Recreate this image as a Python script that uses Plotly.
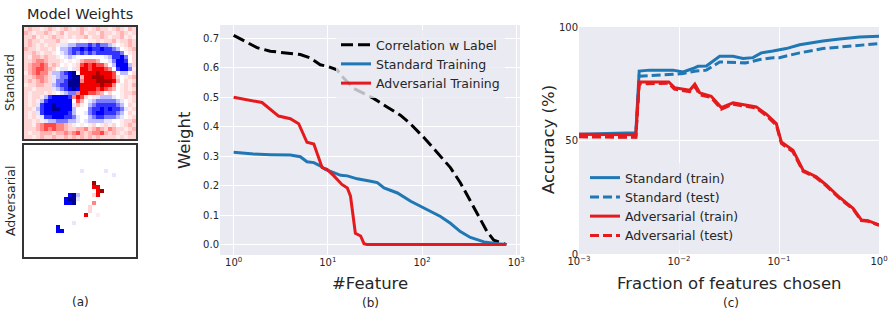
import plotly.graph_objects as go

W, H = 889, 312

# ---------------- Panel (a): model weights (28x28), char-coded levels ----------------
level_values = {'.': 0.0, '1': 0.04, '2': 0.08, '3': 0.15, '4': 0.24, '5': 0.36,
                'R': 0.55, 'M': 0.85, '-': -0.05, '~': -0.13, 'c': -0.26,
                'b': -0.4, 'B': -0.52, 'N': -0.8}

standard_rows = [
    "2322123" "2123212" "3212322" "1232132",
    "3212232" "1231222" "3122132" "2123212",
    "2231212" "3221212" "2312232" "1223121",
    "2322122" "2311..1" "..11212" "2312232",
    "2321212" "21--~~c" "ccbcbcc" "~-.1232",
    "3221221" "2.~~cbb" "BbBbbBb" "bc~.123",
    "2232122" "1.-~cbc" "bcbcbbb" "bbbc.12",
    "2133232" "21.-~-." "......-" "~bbBc.2",
    "2234432" "221.1.1" "34443.." "-cBBb.2",
    "2344542" "32.1.12" "5R5R553" ".~BBB~2",
    "2345543" "2.--.-2" "RR5RRR5" "4.bBBc1",
    "1345442" "~~cbBN." "RRRRMRR" "R5.~~.2",
    "2234432" "-~ccBNN" "3RRMMMR" "R52.123",
    "2323432" "-ccbNNN" "4RRRMMM" "MR3.212",
    "1223322" "~cbbNNN" "RRRRRMR" "R4.1213",
    "2212222" "-~cbBNB" "RRRR5R5" "43.1212",
    "2122212" "1.-~cc4" "RR5543." "2..1223",
    "21221~b" "BBBBb4R" "52.1-~~" "~-.1212",
    "2121~bB" "BBBBB.5" "3.-~ccc" "cc~-.12",
    "212-bBB" "NBBBB-3" "1.~cbbb" "bbc~.21",
    "221~bBB" "NNBBB~." "..cbbBb" "Bbbc-12",
    "212-bBB" "BBBBb~." ".-cbBBb" "bbc~.21",
    "2121-bb" "BBBbbc-" "..~cbbc" "cc~-.12",
    "22121-~" "~ccc~~-" ".-~~~~-" "-..1223",
    "2213455" "544321." "1.12.12" "12.1232",
    "2223454" "5443223" "3423432" "4322123",
    "2122333" "2334345" "3234453" "2321232",
    "2212322" "3223232" "3232322" "2212122",
]

adversarial_rows = ["." * 28 for _ in range(28)]
adversarial_marks = [  # (row, col, level)
    (9, 17, 'M'), (10, 17, 'R'), (10, 18, 'R'), (11, 18, 'R'), (11, 19, 'M'),
    (12, 17, '2'), (12, 18, 'R'), (14, 17, '4'), (15, 16, '2'), (16, 16, '2'),
    (17, 15, 'R'),
    (12, 11, 'B'), (12, 12, 'N'), (12, 13, '~'), (13, 10, 'B'), (13, 11, 'N'),
    (13, 12, 'N'), (13, 13, '-'), (14, 10, 'B'), (14, 11, 'B'), (14, 12, 'N'),
    (20, 8, 'B'), (21, 8, 'B'), (21, 9, 'B'),
    (6, 14, '-'), (6, 20, '-'), (7, 22, '-'), (17, 18, '1'), (19, 12, '-'),
]
adv_grid = [list(r) for r in adversarial_rows]
for r, c, ch in adversarial_marks:
    adv_grid[r][c] = ch

z_standard = [[level_values[ch] for ch in row] for row in standard_rows]
z_adversarial = [[level_values[ch] for ch in row] for row in adv_grid]

seismic = [[0.0, 'rgb(0,0,77)'], [0.25, 'rgb(0,0,255)'], [0.5, 'rgb(255,255,255)'],
           [0.75, 'rgb(255,0,0)'], [1.0, 'rgb(128,0,0)']]

# ---------------- Panel (b): weights vs #feature ----------------
corr_feat = [1, 1.77, 2.45, 3.4, 5.1, 6.5, 8.3, 9.8, 12.5, 14.7, 18.8, 24, 30.6, 42.5,
             58.9, 75, 104, 144, 200, 255, 326, 416, 490, 577, 784]
corr_val = [0.71, 0.668, 0.656, 0.65, 0.645, 0.633, 0.61, 0.605, 0.593, 0.565, 0.53,
            0.513, 0.496, 0.467, 0.439, 0.41, 0.364, 0.313, 0.261, 0.21, 0.147, 0.084,
            0.044, 0.015, 0.0]

std_feat = [1, 1.63, 2.45, 4.0, 5.1, 6.0, 7.1, 8.3, 9.4, 11.6, 13.7, 16.1, 20.5, 28.5,
            33.5, 39.5, 54.8, 75.8, 105, 134, 157, 200, 255, 326, 455, 635, 784]
std_val = [0.313, 0.307, 0.305, 0.304, 0.298, 0.281, 0.278, 0.267, 0.255, 0.244, 0.235,
           0.233, 0.223, 0.215, 0.21, 0.192, 0.175, 0.147, 0.124, 0.104, 0.095, 0.072,
           0.044, 0.024, 0.009, 0.003, 0.0]

adv_feat = [1, 2.0, 3.0, 4.0, 4.9, 6.0, 7.1, 8.7, 9.8, 11.6, 14.1, 16.1, 17.4, 19.6,
            22.3, 24.2, 26, 100, 784]
adv_val = [0.4995, 0.482, 0.436, 0.427, 0.41, 0.347, 0.341, 0.261, 0.255, 0.233, 0.204,
           0.192, 0.164, 0.038, 0.029, 0.003, 0.0, 0.0, 0.0]

# ---------------- Panel (c): accuracy vs fraction of features ----------------
st_frac = [0.001, 0.0019, 0.0035, 0.0037, 0.0040, 0.0051, 0.0087, 0.011, 0.0138, 0.0155,
           0.0188, 0.0255, 0.0347, 0.0437, 0.055, 0.0665, 0.087, 0.118, 0.161, 0.203,
           0.275, 0.405, 0.641, 1.0]
st_acc = [52.8, 53.1, 53.4, 53.4, 80.6, 81, 81, 80.2, 81.7, 82.7, 82.8, 87.1, 87.1, 86.1,
          86.5, 88.6, 89.4, 90.5, 92.2, 93, 93.8, 94.7, 95.6, 95.9]

ste_frac = [0.001, 0.0035, 0.0037, 0.0040, 0.0087, 0.011, 0.0148, 0.0188, 0.0255, 0.0465,
            0.063, 0.087, 0.101, 0.161, 0.275, 0.59, 1.0]
ste_acc = [51.9, 51.6, 51.6, 78.3, 79.2, 79.5, 80.6, 81, 84.6, 84.2, 85.6, 86.5, 86.5,
           88.6, 90.5, 91.9, 92.7]

adv_frac = [0.001, 0.0035, 0.0037, 0.0040, 0.0063, 0.0079, 0.0090, 0.0128, 0.0144, 0.0161,
            0.021, 0.0265, 0.0347, 0.0454, 0.0593, 0.0747, 0.094, 0.1055, 0.138, 0.174,
            0.236, 0.297, 0.404, 0.55, 0.666, 0.776, 1.0]
advtr_acc = [52.8, 52.5, 52.5, 75.8, 75.8, 75.8, 73.3, 72.1, 74.8, 71, 69.5, 64.5, 66.6,
             65.8, 64.8, 61.6, 57.5, 49.4, 45.7, 36.9, 34, 30.4, 24.9, 20.1, 15, 14.7, 12.8]
advte_acc = [51.6, 51.4, 51.4, 75.0, 75.1, 75.2, 72.6, 71.5, 73.9, 70.2, 68.9, 63.8, 66.0,
             65.1, 64.3, 61.0, 56.8, 48.7, 45.0, 36.4, 33.6, 30.0, 24.5, 19.8, 14.7, 14.4, 12.6]

BLUE = '#1f77b4'
RED = '#e41a1c'
TXT = '#262626'
FONT = 'DejaVu Sans'

fig = go.Figure()
fig.add_trace(go.Heatmap(z=z_standard, colorscale=seismic, zmin=-1, zmax=1,
                         showscale=False, xaxis='x', yaxis='y', hoverinfo='skip'))
fig.add_trace(go.Heatmap(z=z_adversarial, colorscale=seismic, zmin=-1, zmax=1,
                         showscale=False, xaxis='x2', yaxis='y2', hoverinfo='skip'))

fig.add_trace(go.Scatter(x=corr_feat, y=corr_val, mode='lines', name='Correlation w Label',
                         line=dict(color='black', width=3, dash='12px,5px'),
                         xaxis='x3', yaxis='y3', legend='legend'))
fig.add_trace(go.Scatter(x=std_feat, y=std_val, mode='lines', name='Standard Training',
                         line=dict(color=BLUE, width=3), xaxis='x3', yaxis='y3',
                         legend='legend'))
fig.add_trace(go.Scatter(x=adv_feat, y=adv_val, mode='lines', name='Adversarial Training',
                         line=dict(color=RED, width=3), xaxis='x3', yaxis='y3',
                         legend='legend'))

fig.add_trace(go.Scatter(x=st_frac, y=st_acc, mode='lines', name='Standard (train)',
                         line=dict(color=BLUE, width=3), xaxis='x4', yaxis='y4',
                         legend='legend2'))
fig.add_trace(go.Scatter(x=ste_frac, y=ste_acc, mode='lines', name='Standard (test)',
                         line=dict(color=BLUE, width=3, dash='9px,4px'), xaxis='x4',
                         yaxis='y4', legend='legend2'))
fig.add_trace(go.Scatter(x=adv_frac, y=advtr_acc, mode='lines', name='Adversarial (train)',
                         line=dict(color=RED, width=3), xaxis='x4', yaxis='y4',
                         legend='legend2'))
fig.add_trace(go.Scatter(x=adv_frac, y=advte_acc, mode='lines', name='Adversarial (test)',
                         line=dict(color=RED, width=3, dash='9px,4px'), xaxis='x4',
                         yaxis='y4', legend='legend2'))


def px(x):
    return x / W


def py(y):
    return 1 - y / H


img_axis = dict(showticklabels=False, showgrid=False, zeroline=False, showline=True,
                mirror=True, linecolor='#333333', linewidth=1.5, ticks='',
                automargin=False)

tick_font = dict(family=FONT, size=10, color=TXT)

fig.update_layout(
    width=W, height=H, autosize=False,
    margin=dict(l=0, r=0, t=0, b=0, pad=0),
    paper_bgcolor='white', plot_bgcolor='#EAEAF2',
    font=dict(family=FONT, color=TXT),
    xaxis=dict(domain=[px(24), px(136)], range=[-0.5, 27.5], anchor='y', **img_axis),
    yaxis=dict(domain=[py(139), py(27)], range=[27.5, -0.5], anchor='x', **img_axis),
    xaxis2=dict(domain=[px(24), px(136)], range=[-0.5, 27.5], anchor='y2', **img_axis),
    yaxis2=dict(domain=[py(257), py(145)], range=[27.5, -0.5], anchor='x2', **img_axis),
    xaxis3=dict(domain=[px(220), px(520)], type='log', range=[-0.145, 3.04], anchor='y3',
                tickvals=[1, 10, 100, 1000],
                ticktext=['10<sup>0</sup>', '10<sup>1</sup>', '10<sup>2</sup>', '10<sup>3</sup>'],
                showgrid=True, gridcolor='white', gridwidth=1, zeroline=False,
                showline=False, ticks='', tickfont=tick_font, automargin=False),
    yaxis3=dict(domain=[py(255), py(25)], range=[-0.0355, 0.745], anchor='x3',
                tickvals=[0, 0.1, 0.2, 0.3, 0.4, 0.5, 0.6, 0.7],
                ticktext=['0.0', '0.1', '0.2', '0.3', '0.4', '0.5', '0.6', '0.7'],
                showgrid=True, gridcolor='white', gridwidth=1, zeroline=False,
                showline=False, ticks='', tickfont=tick_font, automargin=False),
    xaxis4=dict(domain=[px(579), px(879)], type='log', range=[-3, 0], anchor='y4',
                tickvals=[0.001, 0.01, 0.1, 1],
                ticktext=['10<sup>\u22123</sup>', '10<sup>\u22122</sup>',
                          '10<sup>\u22121</sup>', '10<sup>0</sup>'],
                showgrid=True, gridcolor='white', gridwidth=1, zeroline=False,
                showline=False, ticks='', tickfont=tick_font, automargin=False),
    yaxis4=dict(domain=[py(254), py(27)], range=[0, 100], anchor='x4',
                tickvals=[0, 50, 100], ticktext=['0', '50', '100'],
                showgrid=True, gridcolor='white', gridwidth=1, zeroline=False,
                showline=False, ticks='', tickfont=tick_font, automargin=False),
    legend=dict(x=px(336), y=py(30), xanchor='left', yanchor='top',
                bgcolor='rgba(234,234,242,0.8)', borderwidth=0,
                font=dict(family=FONT, size=12.5, color=TXT), tracegroupgap=0),
    legend2=dict(x=px(585), y=py(163), xanchor='left', yanchor='top',
                 bgcolor='rgba(234,234,242,0.8)', borderwidth=0,
                 font=dict(family=FONT, size=12.5, color=TXT), tracegroupgap=0),
    showlegend=True,
)


def ann(text, x, y, size, angle=0):
    fig.add_annotation(text=text, x=px(x), y=py(y), xref='paper', yref='paper',
                       showarrow=False, textangle=angle,
                       font=dict(family=FONT, size=size, color=TXT),
                       xanchor='center', yanchor='middle')


ann('Model Weights', 80, 14, 14.5)
ann('Standard', 10, 83, 12.5, -90)
ann('Adversarial', 10, 201, 12.5, -90)
ann('(a)', 80, 302, 12)
ann('Weight', 184, 140, 16.5, -90)
ann('#Feature', 370, 283, 16.5)
ann('(b)', 370, 303, 12)
ann('Accuracy (%)', 548, 140, 16.5, -90)
ann('Fraction of features chosen', 729, 283, 16.5)
ann('(c)', 731, 303, 12)

fig.write_html('out.html',
               config={'displayModeBar': False},
               post_script="document.body.style.margin='0px';"
                           "document.body.style.overflow='hidden';")
